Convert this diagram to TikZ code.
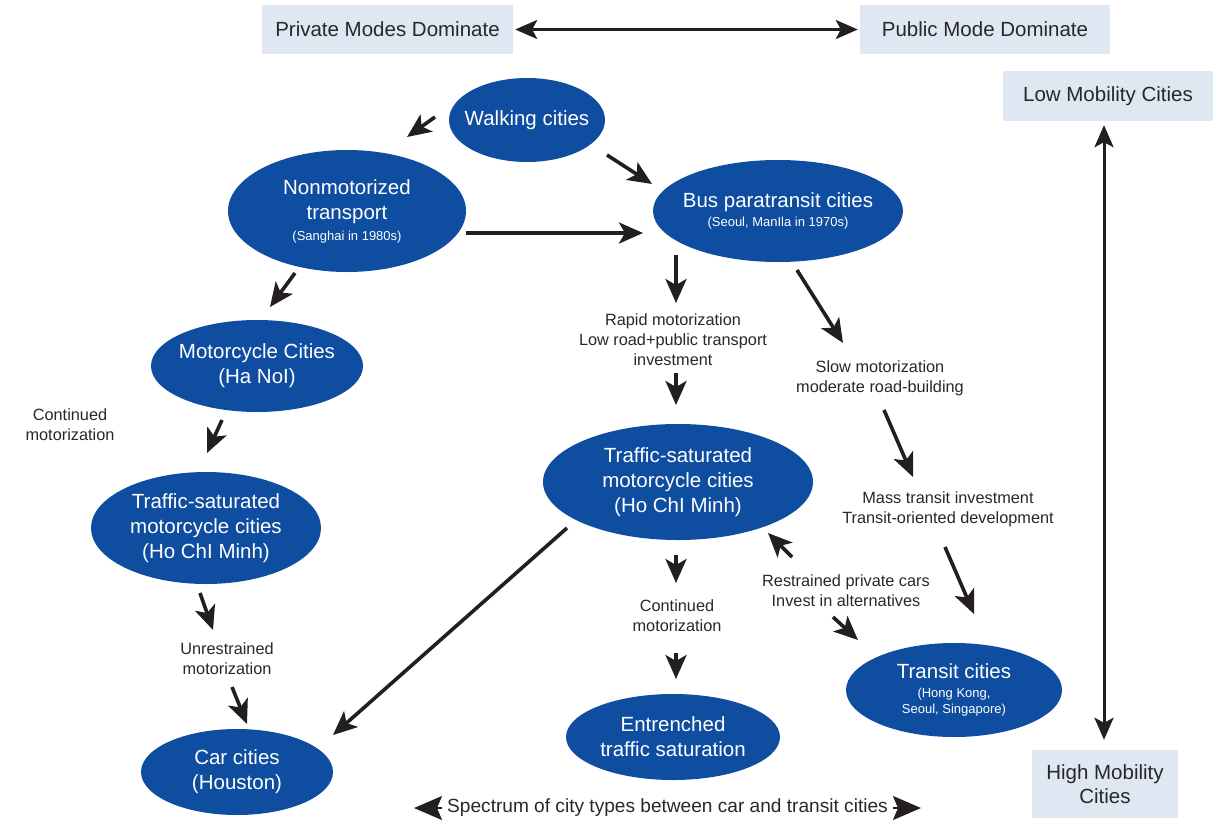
\documentclass[tikz,border=0pt]{standalone}
\usepackage{fontspec}
\setmainfont{Liberation Sans}
\usetikzlibrary{shapes.geometric,arrows.meta,calc}

\definecolor{cityblue}{RGB}{14,77,160}
\definecolor{headbox}{RGB}{223,231,243}
\definecolor{inkdark}{RGB}{35,31,32}
\definecolor{labelgray}{RGB}{40,40,40}

% smaller type for the example cities inside an ellipse
\newcommand{\subtxt}{\fontsize{13}{16}\selectfont}

\begin{document}
\begin{tikzpicture}[x=1pt,y=-1pt,
  % negative inner sep lets the given minimum sizes fix each ellipse
  city/.style={ellipse, fill=cityblue, text=white, inner sep=-60pt, align=center,
               font=\fontsize{20.5}{25}\selectfont},
  band/.style={fill=headbox, text=labelgray, inner sep=0pt, align=center,
               font=\fontsize{20.5}{24}\selectfont},
  note/.style={text=labelgray, inner sep=0pt, align=center,
               font=\fontsize{16.3}{20}\selectfont},
  flow/.style={draw=inkdark, line width=3.6pt,
               -{Stealth[length=24pt,width=21pt,inset=6pt]}},
  twoway/.style={draw=inkdark, line width=3pt,
               {Stealth[length=22pt,width=19pt,inset=5pt]}-{Stealth[length=22pt,width=19pt,inset=5pt]}},
  tiponly/.style={draw=inkdark, line width=2pt,
               -{Stealth[length=28pt,width=24pt,inset=5pt]}},
]
\useasboundingbox (0,0) rectangle (1223,825);

% ---- axis labels -------------------------------------------------------
\node[band, minimum width=251pt, minimum height=49pt] (priv) at (387.5,29.5) {Private Modes Dominate};
\node[band, minimum width=250pt, minimum height=49pt] (pub)  at (985,29.5)   {Public Mode Dominate};
\node[band, minimum width=210pt, minimum height=50pt] (low)  at (1108,96)    {Low Mobility Cities};
\node[band, minimum width=146pt, minimum height=68pt] (high) at (1105,784)   {High Mobility\\Cities};

\draw[twoway] ($(priv.east)+(2,0)$) -- ($(pub.west)+(-2,0)$);
\draw[twoway] ($(low.south)+(-4,4)$) -- ($(high.north)+(-1,-10)$);

% ---- city types --------------------------------------------------------
\node[city, minimum width=156pt, minimum height=84pt]  (walk)    at (527,120) {Walking cities};
\node[city, minimum width=238pt, minimum height=122pt] (nonmot)  at (347,211) {Nonmotorized\\transport\\[-4pt]{\subtxt (Sanghai in 1980s)}};
\node[city, minimum width=250pt, minimum height=102pt] (bus)     at (778,211) {Bus paratransit cities\\[-6pt]{\subtxt (Seoul, ManIla in 1970s)}};
\node[city, minimum width=212pt, minimum height=92pt]  (moto)    at (257,366) {Motorcycle Cities\\(Ha NoI)};
\node[city, minimum width=230pt, minimum height=112pt] (tsleft)  at (206,528) {Traffic-saturated\\motorcycle cities\\(Ho ChI Minh)};
\node[city, minimum width=270pt, minimum height=116pt] (tsc)     at (678,482) {Traffic-saturated\\motorcycle cities\\(Ho ChI Minh)};
\node[city, minimum width=216pt, minimum height=94pt]  (transit) at (954,690) {Transit cities\\[-6pt]{\subtxt (Hong Kong,}\\[-9pt]{\subtxt Seoul, Singapore)}};
\node[city, minimum width=214pt, minimum height=86pt]  (entr)    at (673,737) {Entrenched\\traffic saturation};
\node[city, minimum width=192pt, minimum height=86pt]  (car)     at (237,772) {Car cities\\(Houston)};

% ---- transition notes --------------------------------------------------
\node[note] (lcont) at (70,425)  {Continued\\motorization};
\node[note] (unres) at (227,659) {Unrestrained\\motorization};
\node[note] (rapid) at (673,340) {Rapid motorization\\Low road+public transport\\investment};
\node[note] (slow)  at (880,378) {Slow motorization\\moderate road-building};
\node[note] (mass)  at (948,509) {Mass transit investment\\Transit-oriented development};
\node[note] (restr) at (846,591) {Restrained private cars\\Invest in alternatives};
\node[note] (ccont) at (677,616) {Continued\\motorization};

% ---- transitions -------------------------------------------------------
\draw[flow] ($(walk)+(-92,-3)$)    -- ($(nonmot)+(60,-74)$);
\draw[flow] ($(walk)+(80,35)$)     -- ($(bus)+(-126,-27)$);
\draw[flow] ($(nonmot)+(119,22)$)  -- ($(bus)+(-135,22)$);
\draw[flow] ($(nonmot)+(-52,62)$)  -- ($(moto)+(13,-59)$);
\draw[flow] ($(moto)+(-35,54)$)    -- ($(tsleft)+(1,-75)$);
\draw[flow] ($(tsleft)+(-6,65)$)   -- ($(unres)+(-14,-29)$);
\draw[flow] ($(unres)+(5,28)$)     -- ($(car)+(10,-48)$);
\draw[flow] ($(tsc)+(-111,46)$)    -- ($(car)+(96,-37)$);
\draw[flow] ($(bus)+(-102,44)$)    -- ($(rapid)+(3,-37)$);
\draw[flow] ($(rapid)+(3,33)$)     -- ($(tsc)+(-2,-77)$);
\draw[flow] ($(bus)+(19,59)$)      -- ($(slow)+(-37,-35)$);
\draw[flow] ($(slow)+(4,32)$)      -- ($(mass)+(-35,-32)$);
\draw[flow] ($(mass)+(-3,38)$)     -- ($(transit)+(20,-76)$);
\draw[flow] ($(tsc)+(-2,73)$)      -- ($(ccont)+(-1,-33)$);
\draw[flow] ($(ccont)+(-1,37)$)    -- ($(entr)+(3,-58)$);
\draw[flow] ($(restr)+(-54,-34)$)  -- ($(tsc)+(90,51)$);
\draw[flow] ($(restr)+(-13,26)$)   -- ($(transit)+(-96,-50)$);

% ---- spectrum caption with bare arrowheads -----------------------------
\node[note, font=\fontsize{19.1}{22}\selectfont] (spec) at (667.5,808) {Spectrum of city types between car and transit cities};
\draw[tiponly] ($(spec.west)+(-5,0)$) -- ($(spec.west)+(-33,0)$);
\draw[tiponly] ($(spec.east)+(5,0)$)  -- ($(spec.east)+(33,0)$);
\end{tikzpicture}
\end{document}
